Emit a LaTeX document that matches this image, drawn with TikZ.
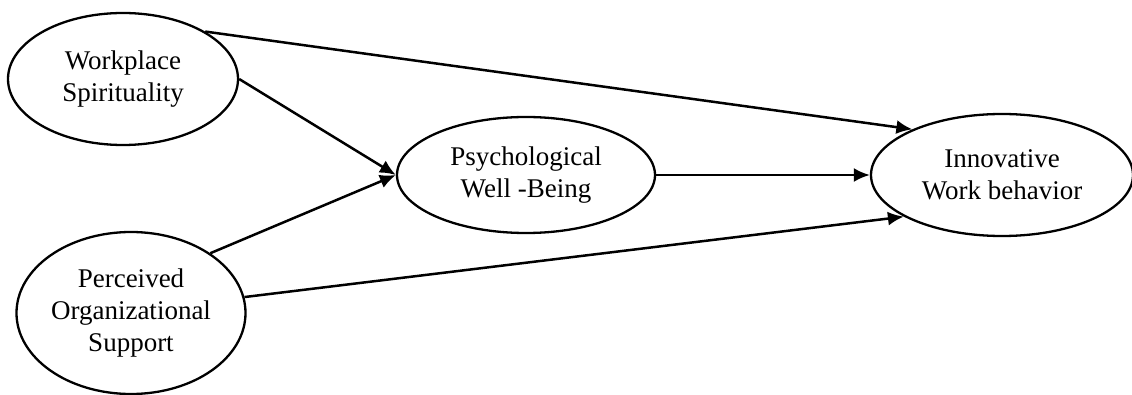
\documentclass[tikz,border=0pt]{standalone}
\usepackage{fontspec}
\setmainfont{Liberation Serif}
\usetikzlibrary{shapes.geometric, arrows.meta}
\tikzstyle{arrow} = [line width=2.5pt,-{Latex[length=16pt,width=14pt]}]
\tikzstyle{construct} = [ellipse, draw=black, line width=2.3pt, inner sep=0pt, align=center, font=\fontsize{27}{32}\selectfont]

\begin{document}
\begin{tikzpicture}[x=1pt, y=-1pt]
\useasboundingbox (0,0) rectangle (1132,395);
% Placement of nodes
\node (wSpirit) [construct, minimum width=230pt, minimum height=132pt] at (123,79) {Workplace\\Spirituality};
\node (orgSupport) [construct, minimum width=229pt, minimum height=162pt] at (131,313) {Perceived\\Organizational\\Support};
\node (wellBeing) [construct, minimum width=258pt, minimum height=116pt] at (526,175) {Psychological\\Well -Being};
\node (innovWork) [construct, minimum width=262pt, minimum height=122pt] at (1002,175) {Innovative\\Work behavior};

% Placement of edges
\draw [arrow] (wSpirit.30) -- (innovWork.153);
\draw [arrow] (wSpirit.east) -- (wellBeing.west);
\draw [arrow] (orgSupport.37) -- (wellBeing.west);
\draw [arrow] (wellBeing.east) -- (innovWork.west);
\draw [arrow] (orgSupport.8) -- (innovWork.203);
\end{tikzpicture}
\end{document}
